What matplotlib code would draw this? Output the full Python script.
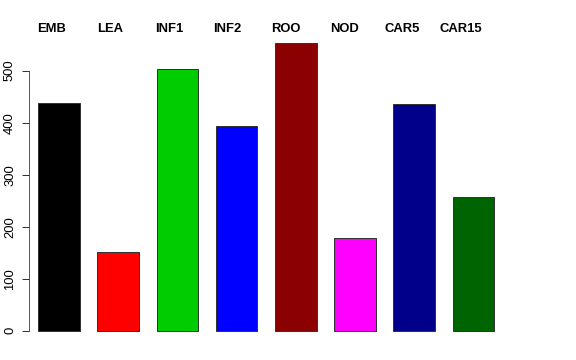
import matplotlib
matplotlib.use("Agg")
import matplotlib.pyplot as plt
import matplotlib.transforms as mtransforms

plt.rcParams['font.family'] = ['Liberation Sans', 'DejaVu Sans']

names = ["EMB", "LEA", "INF1", "INF2", "ROO", "NOD", "CAR5", "CAR15"]
counts = [438, 152, 503, 393, 553, 178, 436, 257]
colors = ["#000000", "#FF0000", "#00CD00", "#0000FF",
          "#8B0000", "#FF00FF", "#00008B", "#006400"]

fig = plt.figure(figsize=(8, 5), dpi=72)
W, H = 576, 360
ax = fig.add_axes([29 / W, 1 - 345 / H, (530 - 29) / W, (345 - 29) / H])

pos = list(range(1, len(names) + 1))
ax.bar(pos, counts, width=0.7, color=colors, edgecolor="#333333", linewidth=1)

ax.set_xlim(0.493, 8.956)
ax.set_ylim(-27.5, 580)

for s in ["top", "right", "bottom"]:
    ax.spines[s].set_visible(False)
ax.spines["left"].set_bounds(0, 500)
ax.spines["left"].set_color("#333333")
ax.set_xticks([])
ax.set_yticks([0, 100, 200, 300, 400, 500])
ax.tick_params(axis="y", length=7, width=1, color="#333333", pad=6, labelsize=13)
for lab in ax.get_yticklabels():
    lab.set_rotation(90)
    lab.set_va("center")

# group names along the top, spaced slightly tighter than the bars
trans = mtransforms.blended_transform_factory(ax.transData, ax.transAxes)
for i, n in enumerate(names):
    ax.text(0.882 + i * 0.987, 1.0, n, transform=trans, ha="center", va="center",
            fontsize=13, fontweight="bold", clip_on=False)

fig.savefig("out.png", dpi=72)
